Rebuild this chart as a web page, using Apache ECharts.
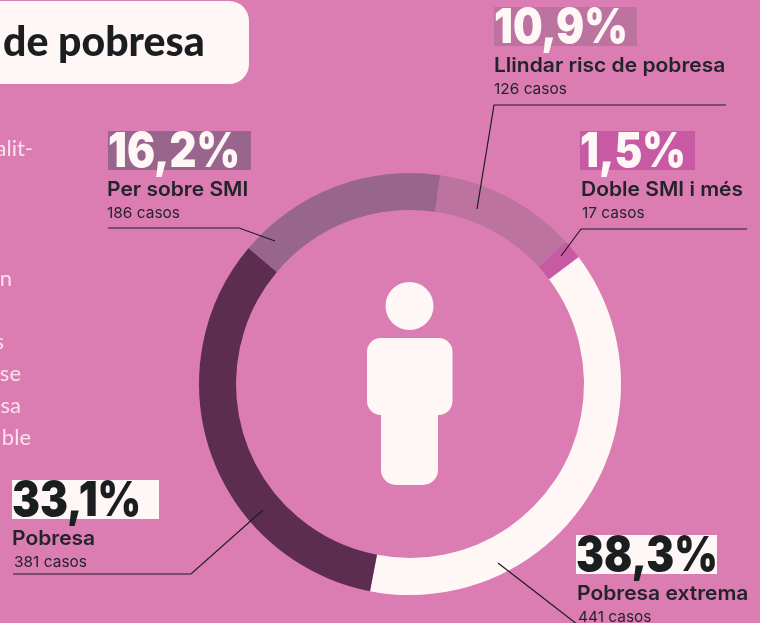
<!DOCTYPE html>
<html><head><meta charset="utf-8">
<style>html,body{margin:0;padding:0;background:#DB7DB2}#c{width:760px;height:623px}</style>
<script src="https://cdn.jsdelivr.net/npm/echarts@6/dist/echarts.min.js"></script>
</head><body><div id="c"></div>
<script>
const categories = ['Pobresa extrema','Pobresa','Per sobre SMI','Llindar risc de pobresa','Doble SMI i més'];
const cases = [441,381,186,126,17];
const percents = ['38,3%','33,1%','16,2%','10,9%','1,5%'];
const colors = ['#FFF7F5','#5C2D50','#98668D','#BC739F','#C85AA3'];
const pctColors = ['#1B1E20','#1B1E20','#FFF7F5','#FFF7F5','#FFF7F5'];
const boxColors = ['#FFF7F5','#FFF7F5','#98668D','#BC739F','#C85AA3'];
const titleText = 'de pobresa';
const sideText = [['alit-',33,149],['n',12,279],['s',4,342],['se',21,374],['sa',21,406],['ble',31,438]];
const layout = [
 {x:576,y:535,w:141,tx:577,cx:578,line:[[498,563],[582,628]]},
 {x:12,y:480,w:147,tx:12,cx:14,line:[[13,574],[191,574],[263,510]]},
 {x:108,y:131,w:143,tx:107,cx:107,line:[[108,228],[239,228],[275,241]]},
 {x:494,y:7,w:143,tx:494,cx:494,line:[[726,105],[494,105],[477,209]]},
 {x:580,y:131,w:115,tx:581,cx:582,line:[[747,229],[581,229],[561,256]]}
];
const els = [];
els.push({type:'rect',shape:{x:-40,y:1,width:289,height:83,r:20},style:{fill:'#FFF7F5'},z:100});
els.push({type:'text',x:3,y:43,style:{text:titleText,fill:'#1B1E20',font:'900 41px Lato',textVerticalAlign:'middle',textAlign:'left'},z:101});
sideText.forEach(s=>els.push({type:'text',x:s[1],y:s[2],style:{text:s[0],fill:'#FBE3EE',font:'400 22px Lato',textVerticalAlign:'middle',textAlign:'right'},z:101}));
categories.forEach((n,i)=>{
 const L = layout[i];
 els.push({type:'rect',shape:{x:L.x,y:L.y,width:L.w,height:39},style:{fill:boxColors[i]},z:100});
 els.push({type:'text',x:L.x,y:L.y+22,scaleX:0.87,style:{text:percents[i],fill:pctColors[i],font:'900 48px Inter',textVerticalAlign:'middle'},z:101});
 els.push({type:'text',x:L.tx,y:L.y+59,scaleX:1.05,style:{text:n,fill:'#23242A',font:'600 20px Inter',textVerticalAlign:'middle'},z:101});
 els.push({type:'text',x:L.cx,y:L.y+82,scaleX:1.03,style:{text:cases[i]+' casos',fill:'#23242A',font:'400 15px Inter',textVerticalAlign:'middle'},z:101});
 els.push({type:'polyline',shape:{points:L.line},style:{stroke:'#1B1E20',lineWidth:1.2,fill:null},z:102});
});
// person icon
els.push({type:'circle',shape:{cx:409.5,cy:306,r:24},style:{fill:'#FFF7F5'},z:100});
els.push({type:'rect',shape:{x:367,y:338,width:85.5,height:77,r:14},style:{fill:'#FFF7F5'},z:100});
els.push({type:'rect',shape:{x:381,y:400,width:57,height:85,r:[0,0,15,15]},style:{fill:'#FFF7F5'},z:100});
const chart = echarts.init(document.getElementById('c'),null,{renderer:'canvas'});
chart.setOption({
 backgroundColor:'#DB7DB2',
 animation:false,
 series:[{type:'pie',center:[410,384],radius:[174,211],startAngle:37,clockwise:true,silent:true,
  label:{show:false},labelLine:{show:false},
  data:categories.map((n,i)=>({name:n,value:cases[i],itemStyle:{color:colors[i]}}))}],
 graphic:{elements:els}
});
</script></body></html>
